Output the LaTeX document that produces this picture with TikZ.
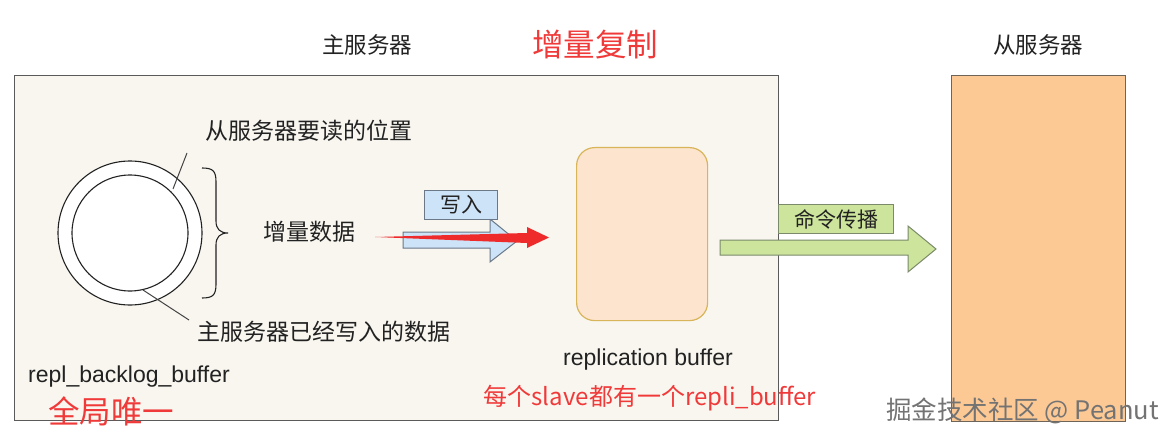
\documentclass[tikz,border=0pt]{standalone}
\usepackage{fontspec}
\setmainfont{Liberation Sans}
\newfontfamily\cjk{Noto Sans CJK SC}
\definecolor{mainfill}{HTML}{F8F6EF}
\definecolor{mainline}{HTML}{5A5A5A}
\definecolor{slavefill}{HTML}{FCC995}
\definecolor{slaveline}{HTML}{6E6458}
\definecolor{buffill}{HTML}{FDE4CF}
\definecolor{bufline}{HTML}{D9B55A}
\definecolor{greenfill}{HTML}{CDE49C}
\definecolor{greenline}{HTML}{7A8A6A}
\definecolor{bluefill}{HTML}{CDE3F8}
\definecolor{blueline}{HTML}{6A7888}
\definecolor{redc}{HTML}{EE2A2A}
\definecolor{redtxt}{HTML}{F03A3A}
\definecolor{txt}{HTML}{222222}
\tikzset{
  lbl/.style={inner sep=0pt, text=txt, font=\cjk\fontsize{23}{26}\selectfont},
  latin/.style={inner sep=0pt, text=txt, font=\fontsize{23}{26}\selectfont},
  redlbl/.style={inner sep=0pt, text=redtxt, font=\cjk\fontsize{31.5}{34}\selectfont},
  tagbox/.style={draw=blueline, line width=1pt, inner sep=0pt, anchor=north west, font=\cjk\fontsize{21}{22}\selectfont, text=txt},
  leader/.style={draw=txt!85, line width=1pt},
}
\begin{document}
\begin{tikzpicture}[x=1pt,y=-1pt]
\useasboundingbox (0,0) rectangle (1173,441);
\fill[white] (0,0) rectangle (1173,441);
% master box
\node[draw=mainline, fill=mainfill, line width=1.4pt, minimum width=764pt, minimum height=345pt, anchor=north west, inner sep=0pt] (master) at (14,75) {};
% slave box
\node[draw=slaveline, fill=slavefill, line width=1.2pt, minimum width=174pt, minimum height=346pt, anchor=north west, inner sep=0pt] (slave) at (951,75) {};
% titles
\node[lbl, font=\cjk\fontsize{22.5}{26}\selectfont] (mtitle) at (367,45) {主服务器};
\node[redlbl] (inc) at (595,44) {增量复制};
\node[lbl, font=\cjk\fontsize{22.5}{26}\selectfont] (stitle) at (1038,45) {从服务器};
% ring buffer
\node[circle, draw=txt, fill=white, line width=1.1pt, minimum size=144pt, inner sep=0pt] (outer) at (130,233) {};
\node[circle, draw=txt, fill=white, line width=1.1pt, minimum size=116pt, inner sep=0pt] (inner) at (130,233) {};
\coordinate (ta) at (187,153);
\coordinate (tb) at (173,189);
\coordinate (ba) at (143,290);
\coordinate (bb) at (189,320);
\draw[leader] (ta) -- (tb);
\draw[leader] (ba) -- (bb);
\node[lbl, anchor=west] (readpos) at (205,131) {从服务器要读的位置};
\node[lbl, anchor=west] (written) at (197,332) {主服务器已经写入的数据};
% brace
\coordinate (br1) at (202,168);
\coordinate (br2) at (202,298);
\coordinate (brtip) at (228,233);
\draw[txt, line width=1.1pt] (br1) .. controls (213,168) and (216,171) .. (216,182) -- (216,221)
  .. controls (216,229) and (220,233) .. (brtip)
  .. controls (220,233) and (216,237) .. (216,245) -- (216,284)
  .. controls (216,295) and (213,298) .. (br2);
\node[lbl, anchor=west] (incdata) at (263,232) {增量数据};
\node[latin, anchor=west] (backlog) at (28,377) {repl\_backlog\_buffer};
\node[redlbl, anchor=west] (uniq) at (48,411) {全局唯一};
% write arrow
\draw[draw=blueline, fill=bluefill, line width=1pt, line join=miter] (403,232) -- (490,232) -- (490,219) -- (517,241) -- (490,262) -- (490,248) -- (403,248) -- cycle;
\node[tagbox, fill=bluefill, minimum width=73pt, minimum height=29pt] (write) at (424,190) {写入};
% replication buffer
\node[draw=bufline, fill=buffill, line width=1.2pt, rounded corners=18pt, minimum width=131pt, minimum height=173pt, anchor=north west, inner sep=0pt] (rbuf) at (576,147) {};
\node[latin] (rbuflbl) at (648,360) {replication buffer};
\node[inner sep=0pt, text=redtxt, font=\cjk\fontsize{24}{26}\selectfont] (per) at (650,398) {每个slave都有一个repli\_buffer};
% red arrow
\fill[redc] (375,237) -- (527,233) -- (527,227) -- (549,237.5) -- (527,248) -- (527,243) -- cycle;
% propagation arrow
\draw[draw=greenline, fill=greenfill, line width=1pt, line join=miter] (720,240) -- (908,240) -- (908,226) -- (936,249) -- (908,272) -- (908,255) -- (720,255) -- cycle;
\node[tagbox, draw=greenline, fill=greenfill, minimum width=115pt, minimum height=29pt] (prop) at (778,204) {命令传播};
% watermark
\node[inner sep=0pt, anchor=west, text=black!55, font=\cjk\fontsize{25.5}{28}\selectfont] (wm) at (886,411) {掘金技术社区 @ Peanut};
\end{tikzpicture}
\end{document}
